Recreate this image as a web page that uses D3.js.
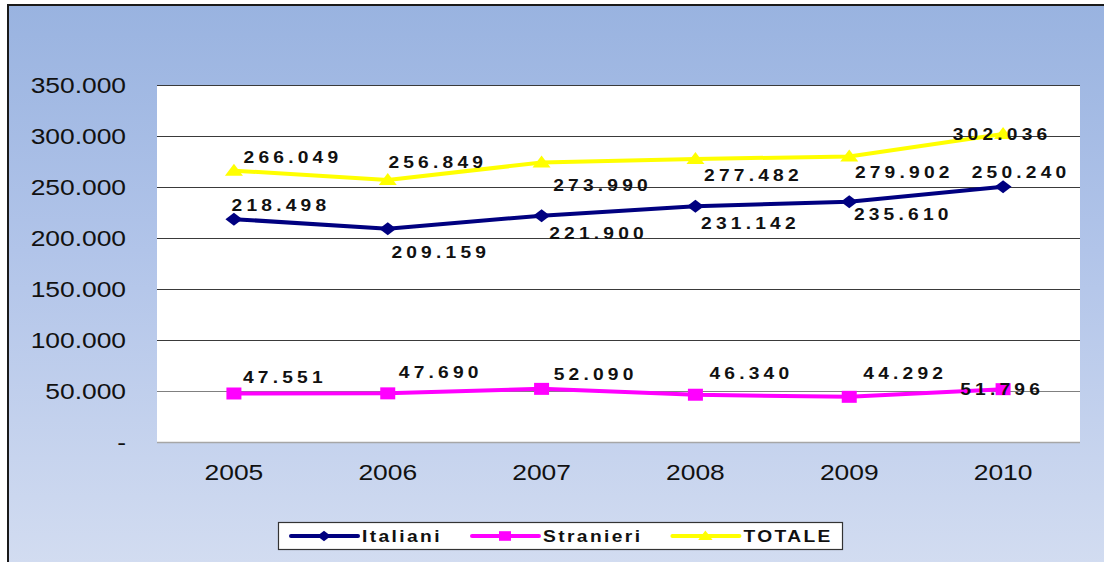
<!DOCTYPE html>
<html>
<head>
<meta charset="utf-8">
<script src="https://cdn.jsdelivr.net/npm/d3@7"></script>
<style>
  html, body { margin: 0; padding: 0; background: #fff; }
  svg { display: block; font-family: Arial, "Liberation Sans", sans-serif; }
</style>
</head>
<body>
<div id="chart"></div>
<script>
'use strict';

const years = ['2005', '2006', '2007', '2008', '2009', '2010'];
const italiani = [218498, 209159, 221900, 231142, 235610, 250240];
const stranieri = [47551, 47690, 52090, 46340, 44292, 51796];
const totale = [266049, 256849, 273990, 277482, 279902, 302036];
const yTicks = [0, 50000, 100000, 150000, 200000, 250000, 300000, 350000];

// where excel put the value labels, relative to the point
const offItaliani = [[45, -14], [51, 23], [55, 17], [53, 17], [52, 12], [16, -15]];
const offStranieri = [[49, -16], [51, -21], [52, -15], [54, -22], [54, -24], [-3, 0]];
const offTotale = [[57, -14], [48, -18], [59, 22], [56, 16], [53, 16], [-3, 0]];

const width = 1104, height = 562;
const plot = {left: 157, right: 1080, top: 85, bottom: 442};
const stretch = 1.2; // the original picture is wider than tall

const it = d3.formatLocale({decimal: ',', thousands: '.', grouping: [3], currency: ['€', '']});
const fmt = it.format(',d');

const series = [
    {name: 'Italiani', values: italiani, color: '#000080', shape: 'diamond', off: offItaliani},
    {name: 'Stranieri', values: stranieri, color: '#ff00ff', shape: 'square', off: offStranieri},
    {name: 'TOTALE', values: totale, color: '#ffff00', shape: 'triangle', off: offTotale}
];

function marker(shape) {
    if (shape === 'diamond') return 'M0,-6.5L8.5,0L0,6.5L-8.5,0Z';
    if (shape === 'square') return 'M-7.5,-6L7.5,-6L7.5,6L-7.5,6Z';
    return 'M0,-7L9,5L-9,5Z';
}

function stretchedText(g, x, y, txt) {
    return g.append('g')
        .attr('transform', `translate(${x},${y}) scale(${stretch},1)`)
        .append('text')
        .text(txt);
}

const svg = d3.select('#chart').append('svg')
    .attr('width', width)
    .attr('height', height);

const grad = svg.append('defs').append('linearGradient')
    .attr('id', 'bg')
    .attr('x1', 0).attr('y1', 0).attr('x2', 0).attr('y2', 1);
grad.append('stop').attr('offset', '0%').attr('stop-color', '#99b3e0');
grad.append('stop').attr('offset', '35%').attr('stop-color', '#b1c4e9');
grad.append('stop').attr('offset', '100%').attr('stop-color', '#e1e7f4');

svg.append('rect')
    .attr('x', 8).attr('y', 5)
    .attr('width', 1200).attr('height', 700)
    .attr('fill', 'url(#bg)')
    .attr('stroke', '#1a1a1a')
    .attr('stroke-width', 2);

const x = d3.scalePoint()
    .domain(years)
    .range([plot.left, plot.right])
    .padding(0.5);
const y = d3.scaleLinear()
    .domain([0, 350000])
    .range([plot.bottom, plot.top]);

svg.append('rect')
    .attr('x', plot.left).attr('y', plot.top)
    .attr('width', plot.right - plot.left)
    .attr('height', plot.bottom - plot.top)
    .attr('fill', 'white');

// gridlines
svg.append('g')
    .selectAll('line')
    .data(yTicks.filter(d => d > 0))
    .enter()
    .append('line')
    .attr('x1', plot.left).attr('x2', plot.right)
    .attr('y1', d => Math.round(y(d)) + 0.5)
    .attr('y2', d => Math.round(y(d)) + 0.5)
    .attr('stroke', d => d === 50000 ? '#808080' : '#3a3a3a')
    .attr('stroke-width', 1);

svg.append('line')
    .attr('x1', plot.left).attr('x2', plot.right)
    .attr('y1', plot.bottom + 0.5).attr('y2', plot.bottom + 0.5)
    .attr('stroke', '#a6a6a6')
    .attr('stroke-width', 1.5);

// y labels
const yl = svg.append('g').attr('font-size', 22).attr('fill', '#111');
yTicks.forEach(d => {
    stretchedText(yl, 126, y(d) + 8, d === 0 ? '-' : fmt(d))
        .attr('text-anchor', 'end');
});

// x labels
const xl = svg.append('g').attr('font-size', 22).attr('fill', '#111');
years.forEach(d => {
    stretchedText(xl, x(d), 480, d).attr('text-anchor', 'middle');
});

// lines + markers
const line = d3.line()
    .x((d, i) => x(years[i]))
    .y(d => y(d));

series.forEach(s => {
    svg.append('path')
        .datum(s.values)
        .attr('d', line)
        .attr('fill', 'none')
        .attr('stroke', s.color)
        .attr('stroke-width', 4);
    svg.append('g')
        .selectAll('path')
        .data(s.values)
        .enter()
        .append('path')
        .attr('d', marker(s.shape))
        .attr('transform', (d, i) => `translate(${x(years[i])},${y(d)})`)
        .attr('fill', s.color);
});

// value labels
const lab = svg.append('g')
    .attr('font-size', 16)
    .attr('font-weight', 'bold')
    .attr('fill', '#111')
    .attr('letter-spacing', 3.5);
series.forEach(s => {
    s.values.forEach((v, i) => {
        stretchedText(lab, x(years[i]) + s.off[i][0] + 2, y(v) + s.off[i][1] + 6, fmt(v))
            .attr('text-anchor', 'middle');
    });
});

// legend
const leg = svg.append('g');
leg.append('rect')
    .attr('x', 278.5).attr('y', 522.5)
    .attr('width', 564).attr('height', 27)
    .attr('fill', 'white')
    .attr('stroke', '#333')
    .attr('stroke-width', 1.2);

let lx = 291;
series.forEach(s => {
    leg.append('line')
        .attr('x1', lx).attr('x2', lx + 67)
        .attr('y1', 536).attr('y2', 536)
        .attr('stroke', s.color)
        .attr('stroke-width', 4)
        .attr('stroke-linecap', 'round');
    leg.append('path')
        .attr('d', marker(s.shape))
        .attr('transform', `translate(${lx + 33},536) scale(0.8)`)
        .attr('fill', s.color);
    const t = stretchedText(leg, lx + 71, 541.5, s.name)
        .attr('font-size', 16)
        .attr('font-weight', 'bold')
        .attr('letter-spacing', 2)
        .attr('fill', '#111');
    lx += 71 + t.node().getComputedTextLength() * stretch + 30;
});
</script>
</body>
</html>
